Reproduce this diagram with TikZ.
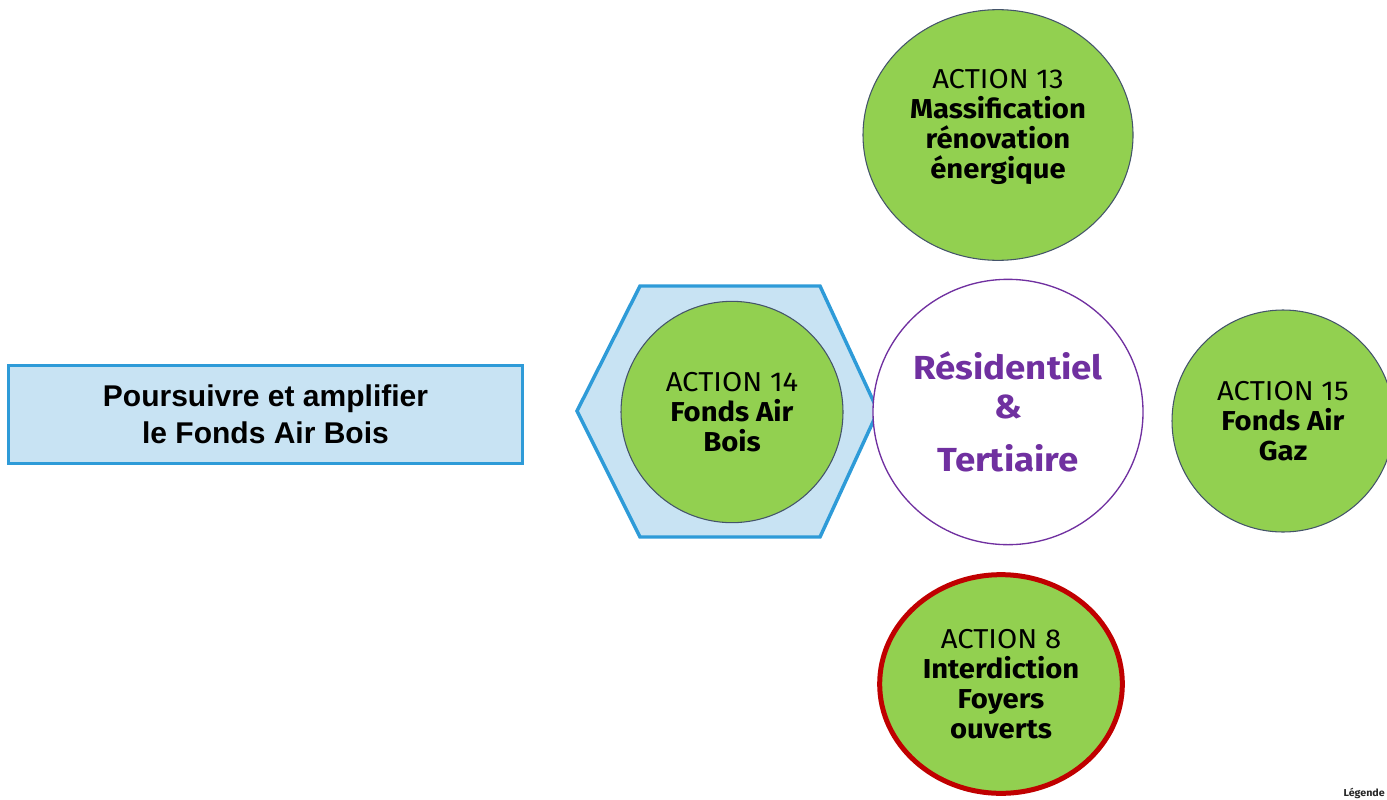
\documentclass[tikz,border=0pt]{standalone}
\usepackage{fontspec}
\setmainfont{Fira Sans}[FakeStretch=1.07]
\newfontfamily\hubfont{Fira Sans}[FakeStretch=1.1]
\newfontfamily\boxfont{Liberation Sans}
\usepackage{tikz}
\usetikzlibrary{shapes.geometric}

\definecolor{actgreen}{HTML}{92D050}
\definecolor{actline}{HTML}{44546A}
\definecolor{hexfill}{HTML}{C8E3F3}
\definecolor{hexline}{HTML}{2E9BD8}
\definecolor{respurple}{HTML}{7030A0}
\definecolor{ringred}{HTML}{C00000}

\begin{document}
\begin{tikzpicture}[x=0.75pt,y=0.75pt,yscale=-1,xscale=1,
    action/.style={ellipse,draw=actline,line width=0.8pt,fill=actgreen,inner sep=0pt,
        align=center,font=\fontsize{20.5}{22.5}\selectfont},
    hub/.style={ellipse,draw=respurple,line width=1pt,fill=white,inner sep=0pt,
        align=center,text=respurple,font=\hubfont\fontsize{25}{29}\selectfont\bfseries},
    goal/.style={rectangle,draw=hexline,line width=2.25pt,fill=hexfill,inner sep=0pt,
        align=center,font=\boxfont\fontsize{22.5}{28}\selectfont\bfseries}]
    \useasboundingbox (0,0) rectangle (1387,799);

    %Shape: Hexagon
    \draw [draw=hexline,fill=hexfill,line width=2.6pt,line join=miter]
        (577,411) -- (640,286) -- (820,286) -- (878,411) -- (820,537) -- (640,537) -- cycle ;

    % Text Node
    \node [goal,minimum width=386pt,minimum height=73.5pt] (fab) at (265.5,414)
        {Poursuivre et amplifier\\le Fonds Air Bois};

    %Shape: Circles
    \node [hub,minimum width=202.5pt,minimum height=199pt] (res) at (1008,412)
        {Résidentiel\\\&\\[11pt]Tertiaire};
    \node [action,minimum width=202.5pt,minimum height=188pt] (a13) at (998,135)
        {ACTION 13\\\textbf{Massification}\\\textbf{rénovation}\\\textbf{énergique}\\[-6pt]};
    \node [action,minimum width=166.5pt,minimum height=166pt] (a14) at (732,412)
        {ACTION 14\\\textbf{Fonds Air}\\\textbf{Bois}};
    \node [action,minimum width=166.5pt,minimum height=166.5pt] (a15) at (1283,421)
        {ACTION 15\\\textbf{Fonds Air}\\\textbf{Gaz}};
    \node [action,draw=ringred,line width=3.75pt,minimum width=182pt,minimum height=164pt] (a8) at (1001,684)
        {ACTION 8\\\textbf{Interdiction}\\\textbf{Foyers}\\\textbf{ouverts}};

    % Text Node
    \node [anchor=base east,inner sep=0pt,text=black!85,font=\fontsize{7.5}{9}\selectfont\bfseries] (leg) at (1385,796) {Légende};

\end{tikzpicture}
\end{document}
